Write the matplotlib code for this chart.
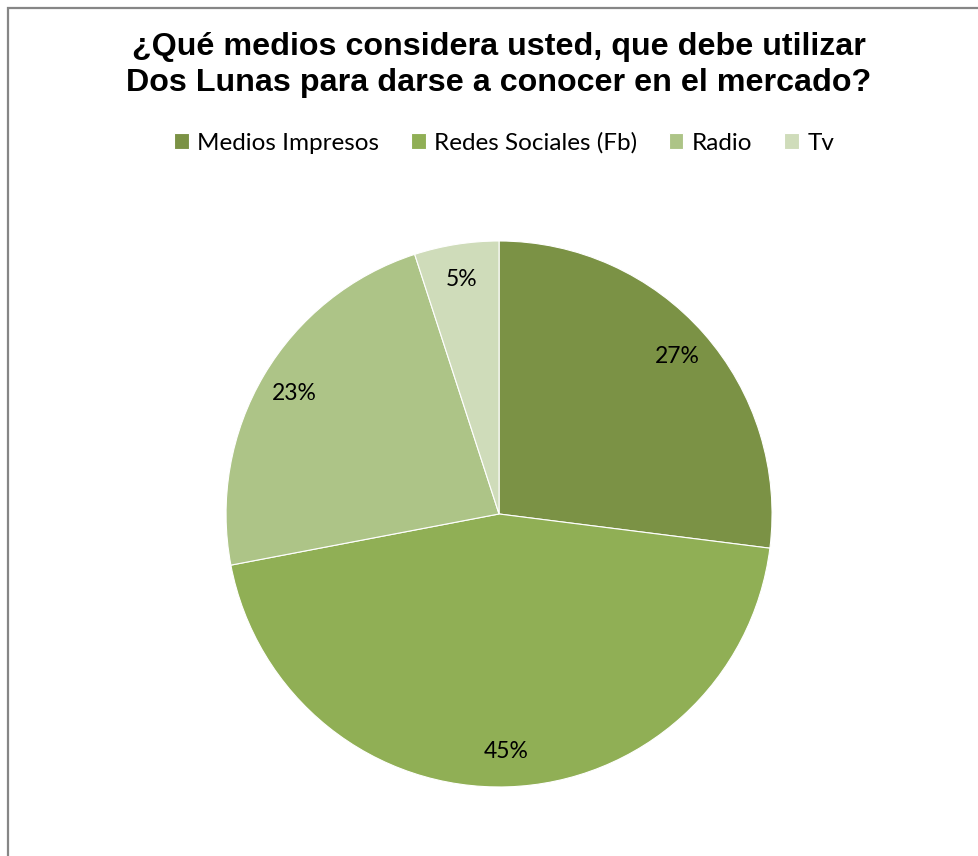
import matplotlib.pyplot as plt
from matplotlib.patches import Rectangle

categorias = ["Medios Impresos", "Redes Sociales (Fb)", "Radio", "Tv"]
porcentajes = [27, 45, 23, 5]
colores = ["#7B9245", "#90AF55", "#ADC487", "#CFDCBA"]

titulo = "¿Qué medios considera usted, que debe utilizar\nDos Lunas para darse a conocer en el mercado?"

fig = plt.figure(figsize=(9.79, 8.56), dpi=100)

# marco del grafico
fig.patches.append(Rectangle((8 / 979, -0.01), 1.0, 1 - 8 / 856 + 0.01,
                             transform=fig.transFigure, fill=False,
                             edgecolor="#868686", linewidth=1.6))

ax = fig.add_axes([0.2309, 0.0806, 0.5577, 0.6379])
wedges, textos, pcts = ax.pie(
    porcentajes, colors=colores, startangle=90, counterclock=False,
    autopct=lambda p: f"{p:.0f}%", pctdistance=0.87,
    wedgeprops=dict(edgecolor="white", linewidth=0.8),
    textprops=dict(fontsize=16.5, family=["Lato", "DejaVu Sans"], color="black"))
ax.set_xlim(-1, 1)
ax.set_ylim(-1, 1)
ax.set_aspect("equal")

fig.text(0.5097, 1 - 65 / 856, titulo, ha="center", va="center",
         fontsize=23.2, fontweight="bold", family="Liberation Sans",
         linespacing=1.22)

fig.legend(wedges, categorias, loc="center", bbox_to_anchor=(0.5150, 1 - 143 / 856),
           ncol=4, frameon=False, handlelength=0.6, handleheight=0.6,
           handletextpad=0.35, columnspacing=1.3,
           prop=dict(family=["Lato", "DejaVu Sans"], size=17.5))

fig.savefig("out.png", dpi=100)
